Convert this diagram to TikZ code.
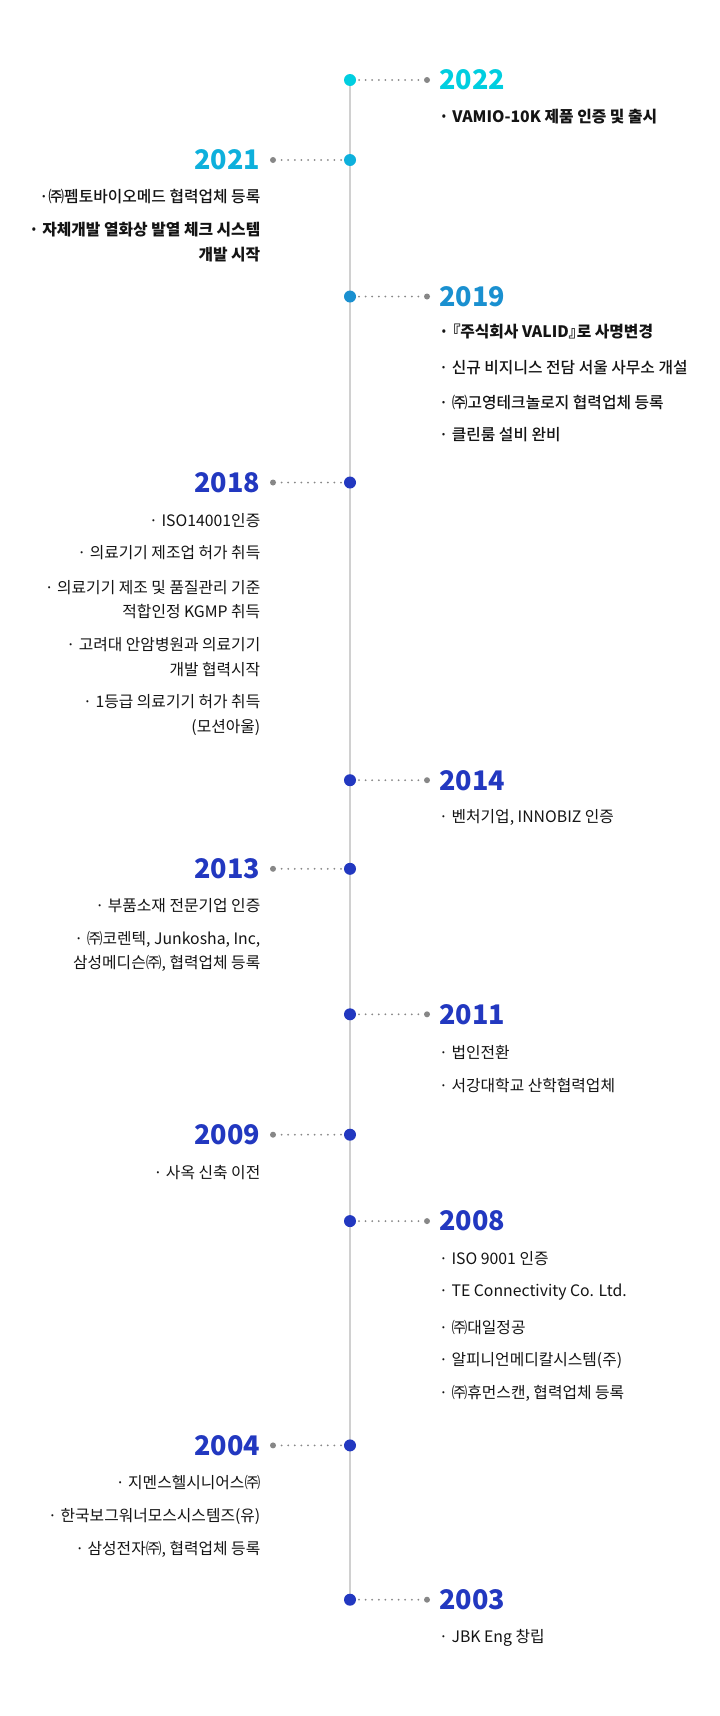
\documentclass[tikz,border=0pt]{standalone}
\usepackage{fontspec}
\setmainfont{Noto Sans CJK KR}
\newfontfamily\mdfont{Noto Sans CJK KR Medium}
\newfontfamily\paltbold[RawFeature=+palt]{Noto Sans CJK KR Bold}
\usetikzlibrary{backgrounds}
\definecolor{cA}{RGB}{0,206,224}
\definecolor{cB}{RGB}{14,176,220}
\definecolor{cC}{RGB}{26,144,208}
\definecolor{cD}{RGB}{34,56,192}
\definecolor{gdot}{RGB}{135,135,135}
\definecolor{vline}{RGB}{208,208,208}
\definecolor{txt}{RGB}{20,20,20}
\tikzset{
  maindot/.style={circle,fill=#1,inner sep=0pt,minimum size=12pt},
  enddot/.style={circle,fill=gdot,inner sep=0pt,minimum size=6pt},
  dotline/.style={draw=gdot,line width=2pt,line cap=round,dash pattern=on 0pt off 6.6pt,dash phase=3.8pt,shorten >=4.5pt},
  yearR/.style={anchor=west,inner sep=0pt,text=#1,font=\fontsize{27}{27}\selectfont\bfseries},
  yearL/.style={anchor=east,inner sep=0pt,text=#1,font=\fontsize{27}{27}\selectfont\bfseries},
  itemR/.style={anchor=west,inner sep=0pt,text=txt,align=left,font=\fontsize{15.8}{24.5}\selectfont},
  itemL/.style={anchor=east,inner sep=0pt,text=txt,align=right,font=\fontsize{15.8}{24.5}\selectfont},
  timeline/.style={draw=vline,line width=2pt}
}
\begin{document}
\begin{tikzpicture}[x=1pt,y=-1pt]
\useasboundingbox (0,0) rectangle (720,1716);
% ---- 2022
\node[maindot=cA] (d2022) at (350,80) {};
\node[enddot] (g2022) at (427,80) {};
\node[yearR=cA] (y2022) at (439,80) {2022};
\node[itemR,font=\fontsize{15.8}{24.5}\selectfont\bfseries] (i2022a) at (439,117) {· VAMIO-10K 제품 인증 및 출시};
% ---- 2021
\node[maindot=cB] (d2021) at (350,160) {};
\node[enddot] (g2021) at (273,160) {};
\node[yearL=cB] (y2021) at (260.5,160) {2021};
\node[itemL,font=\fontsize{15.8}{24.5}\mdfont] (i2021a) at (260.5,197) {·㈜펨토바이오메드 협력업체 등록};
\node[itemL,font=\fontsize{15.8}{24.5}\selectfont\bfseries] (i2021b) at (260.5,242) {· 자체개발 열화상 발열 체크 시스템\\개발 시작};
% ---- 2019
\node[maindot=cC] (d2019) at (350,296.5) {};
\node[enddot] (g2019) at (427,296.5) {};
\node[yearR=cC] (y2019) at (439,296.5) {2019};
\node[itemR,font=\fontsize{15.8}{24.5}\selectfont\bfseries] (i2019a) at (439,331.5) {· {\paltbold 『}주식회사 VALID{\paltbold 』}로 사명변경};
\node[itemR,font=\fontsize{15.8}{24.5}\mdfont] (i2019b) at (439,367.7) {· 신규 비지니스 전담 서울 사무소 개설};
\node[itemR,font=\fontsize{15.8}{24.5}\mdfont] (i2019c) at (439,402.7) {· ㈜고영테크놀로지 협력업체 등록};
\node[itemR,font=\fontsize{15.8}{24.5}\mdfont] (i2019d) at (439,434.4) {· 클린룸 설비 완비};
% ---- 2018
\node[maindot=cD] (d2018) at (350,482.5) {};
\node[enddot] (g2018) at (273,482.5) {};
\node[yearL=cD] (y2018) at (260.5,482.5) {2018};
\node[itemL] (i2018a) at (260.5,520.8) {· ISO14001인증};
\node[itemL] (i2018b) at (260.5,552.6) {· 의료기기 제조업 허가 취득};
\node[itemL] (i2018c) at (260.5,599.6) {· 의료기기 제조 및 품질관리 기준\\적합인정 KGMP 취득};
\node[itemL] (i2018d) at (260.5,657.1) {· 고려대 안암병원과 의료기기\\개발 협력시작};
\node[itemL] (i2018e) at (260.5,715) {· 1등급 의료기기 허가 취득\\(모션아울)};
% ---- 2014
\node[maindot=cD] (d2014) at (350,780.2) {};
\node[enddot] (g2014) at (427,780.2) {};
\node[yearR=cD] (y2014) at (439,780.2) {2014};
\node[itemR] (i2014a) at (439,817.4) {· 벤처기업, INNOBIZ 인증};
% ---- 2013
\node[maindot=cD] (d2013) at (350,868.8) {};
\node[enddot] (g2013) at (273,868.8) {};
\node[yearL=cD] (y2013) at (260.5,868.8) {2013};
\node[itemL] (i2013a) at (260.5,906) {· 부품소재 전문기업 인증};
\node[itemL] (i2013b) at (260.5,951.4) {· ㈜코렌텍, Junkosha, Inc,\\삼성메디슨㈜, 협력업체 등록};
% ---- 2011
\node[maindot=cD] (d2011) at (350,1014.3) {};
\node[enddot] (g2011) at (427,1014.3) {};
\node[yearR=cD] (y2011) at (439,1014.3) {2011};
\node[itemR] (i2011a) at (439,1052.6) {· 법인전환};
\node[itemR] (i2011b) at (439,1085.4) {· 서강대학교 산학협력업체};
% ---- 2009
\node[maindot=cD] (d2009) at (350,1134.7) {};
\node[enddot] (g2009) at (273,1134.7) {};
\node[yearL=cD] (y2009) at (260.5,1134.7) {2009};
\node[itemL] (i2009a) at (260.5,1173) {· 사옥 신축 이전};
% ---- 2008
\node[maindot=cD] (d2008) at (350,1221.1) {};
\node[enddot] (g2008) at (427,1221.1) {};
\node[yearR=cD] (y2008) at (439,1221.1) {2008};
\node[itemR] (i2008a) at (439,1258.3) {· ISO 9001 인증};
\node[itemR] (i2008b) at (439,1292.3) {· TE Connectivity Co. Ltd.};
\node[itemR] (i2008c) at (439,1327.3) {· ㈜대일정공};
\node[itemR] (i2008d) at (439,1360.1) {· 알피니언메디칼시스템(주)};
\node[itemR] (i2008e) at (439,1392.9) {· ㈜휴먼스캔, 협력업체 등록};
% ---- 2004
\node[maindot=cD] (d2004) at (350,1445.4) {};
\node[enddot] (g2004) at (273,1445.4) {};
\node[yearL=cD] (y2004) at (260.5,1445.4) {2004};
\node[itemL] (i2004a) at (260.5,1482.6) {· 지멘스헬시니어스㈜};
\node[itemL] (i2004b) at (260.5,1516.6) {· 한국보그워너모스시스템즈(유)};
\node[itemL] (i2004c) at (260.5,1549.4) {· 삼성전자㈜, 협력업체 등록};
% ---- 2003
\node[maindot=cD] (d2003) at (350,1599.7) {};
\node[enddot] (g2003) at (427,1599.7) {};
\node[yearR=cD] (y2003) at (439,1599.7) {2003};
\node[itemR] (i2003a) at (439,1638) {· JBK Eng 창립};
% ---- connectors
\begin{pgfonlayer}{background}
\fill[white] (0,0) rectangle (720,1716);
\draw[timeline] (d2022.center) -- (d2003.center);
\end{pgfonlayer}
\foreach \y in {2022,2021,2019,2018,2014,2013,2011,2009,2008,2004,2003}
  \draw[dotline] (d\y) -- (g\y);
\end{tikzpicture}
\end{document}
